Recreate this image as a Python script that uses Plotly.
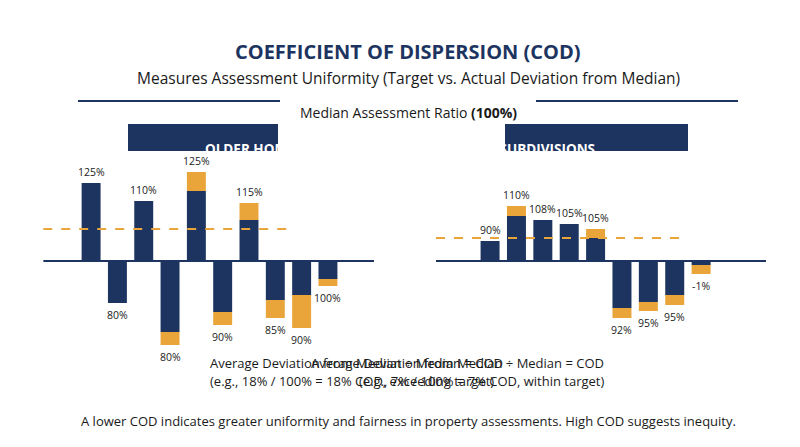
import plotly.graph_objects as go

NAVY = "#1d3461"
ORANGE = "#e9a53a"
FONT = "Open Sans"

# Older homes: deviation heights (navy part, orange excess part), signed
older_labels = ["125%", "80%", "110%", "80%", "125%", "90%", "115%", "85%", "90%", "100%"]
older_navy = [78, -42, 60, -71, 70, -51, 41, -39, -34, -18]
older_orange = [0, 0, 0, -13, 19, -13, 17, -18, -33, -7]
older_target = 32

newer_labels = ["90%", "110%", "108%", "105%", "105%", "92%", "95%", "95%", "-1%"]
newer_navy = [20, 45, 41, 37, 23, -47, -41, -34, -4]
newer_orange = [0, 10, 0, 0, 9, -10, -9, -10, -9]
newer_target = 23

fig = go.Figure()
annotations = []
shapes = []

def panel(labels, navy, orange, target, xref, yref, xr, tlabel):
    xs = list(range(len(labels)))
    fig.add_bar(x=xs, y=navy, marker_color=NAVY, width=0.72, xaxis=xref, yaxis=yref,
                showlegend=False, marker_line_width=0)
    fig.add_bar(x=xs, y=orange, marker_color=ORANGE, width=0.72, xaxis=xref, yaxis=yref,
                showlegend=False, marker_line_width=0)
    for i, (l, n, o) in enumerate(zip(labels, navy, orange)):
        tot = n + o
        annotations.append(dict(x=i, y=tot, xref=xref, yref=yref, text=l, showarrow=False,
                                yanchor="bottom" if tot > 0 else "top",
                                yshift=2 if tot > 0 else -3,
                                font=dict(size=10.5, color="#222", family=FONT)))
    shapes.append(dict(type="line", xref=xref, yref=yref, x0=xr[0], x1=xr[1], y0=0, y1=0,
                       line=dict(color=NAVY, width=2)))
    shapes.append(dict(type="line", xref=xref, yref=yref, x0=xr[0], x1=xr[1] - 3.0,
                       y0=target, y1=target, line=dict(color=ORANGE, width=2, dash="dash")))
    annotations.append(dict(x=xr[1] + 0.8, y=target, xref=xref, yref=yref, text=tlabel,
                            showarrow=False, xanchor="right", bgcolor=ORANGE, borderpad=3,
                            font=dict(size=12, color="#1a1a1a", family=FONT)))

panel(older_labels, older_navy, older_orange, older_target, "x", "y",
      (-1.82, 10.75), "Target COD: <b>15%</b>")
panel(newer_labels, newer_navy, newer_orange, newer_target, "x2", "y2",
      (-2.05, 10.46), "Target COD: <b>10%</b>")

ax = dict(visible=False, fixedrange=True)
fig.update_layout(
    width=800, height=447, margin=dict(l=0, r=0, t=0, b=0),
    paper_bgcolor="white", plot_bgcolor="white", barmode="relative",
    xaxis=dict(ax, domain=[0.044, 0.4575], range=[-1.82, 10.75]),
    yaxis=dict(ax, domain=[0.2282, 0.6644], range=[-92, 103]),
    xaxis2=dict(ax, domain=[0.535, 0.9475], range=[-2.05, 10.46], anchor="y2"),
    yaxis2=dict(ax, domain=[0.2282, 0.6644], range=[-92, 103], anchor="x2"),
)

def ptxt(x, y, text, size, color="#1a1a1a", bold=False, **kw):
    annotations.append(dict(x=x / 800, y=1 - y / 447, xref="paper", yref="paper",
                            text=f"<b>{text}</b>" if bold else text, showarrow=False,
                            font=dict(size=size, color=color, family=FONT), **kw))

ptxt(400, 28, "COEFFICIENT OF DISPERSION (COD)", 20, NAVY, bold=True)
ptxt(400, 57, "Measures Assessment Uniformity (Target vs. Actual Deviation from Median)", 15.5)
ptxt(400, 93, "Median Assessment Ratio <b>(100%)</b>", 14)
for x0, x1 in [(70, 272), (528, 730)]:
    shapes.append(dict(type="line", xref="paper", yref="paper", x0=x0 / 800, x1=x1 / 800,
                       y0=1 - 93 / 447, y1=1 - 93 / 447, line=dict(color=NAVY, width=2)))
for x0, x1, t in [(120, 270, "OLDER HOMES"), (497, 680, "NEWER SUBDIVISIONS")]:
    shapes.append(dict(type="rect", xref="paper", yref="paper", x0=x0 / 800, x1=x1 / 800,
                       y0=1 - 143 / 447, y1=1 - 116 / 447, fillcolor=NAVY, line_width=0))
    ptxt((x0 + x1) / 2, 130, t, 13.5, "white", bold=True)
ptxt(200, 366, "Average Deviation from Median ÷ Median = COD", 13)
ptxt(200, 384, "(e.g., 18% / 100% = 18% COD, exceeding target)", 13)
ptxt(598, 366, "Average Deviation from Median ÷ Median = COD", 13)
ptxt(598, 384, "(e.g., 7% / 100% = 7% COD, within target)", 13)
ptxt(400, 424, "A lower COD indicates greater uniformity and fairness in property assessments. High COD suggests inequity.", 13)

fig.update_layout(annotations=annotations, shapes=shapes)
fig.write_html("out.html")
